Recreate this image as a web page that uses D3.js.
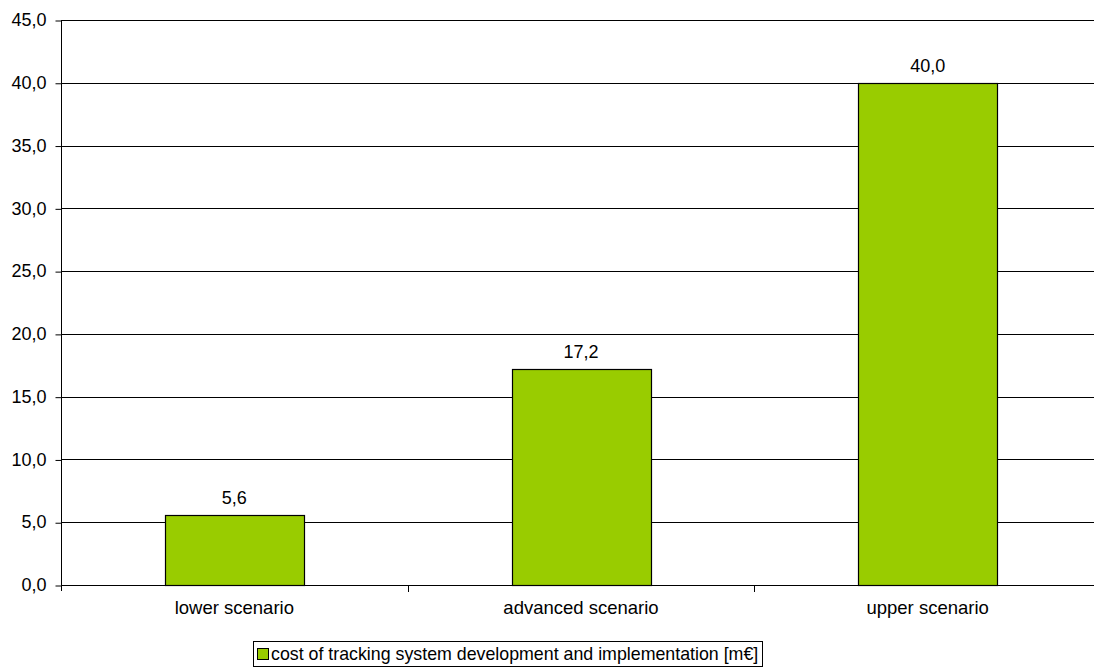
<!DOCTYPE html>
<html>
<head>
<meta charset="utf-8">
<script src="https://cdn.jsdelivr.net/npm/d3@7"></script>
<style>
  html, body { margin: 0; padding: 0; background: #fff; }
  svg { display: block; font-family: Arial, "Liberation Sans", sans-serif; }
</style>
</head>
<body>
<svg id="chart" width="1094" height="671"></svg>
<script>
// Scenario cost data
const categories = ["lower scenario", "advanced scenario", "upper scenario"];
const costValues = [5.6, 17.2, 40.0];
const yTicks = [0, 5, 10, 15, 20, 25, 30, 35, 40, 45];
const seriesName = "cost of tracking system development and implementation [m€]";

const svg = d3.select("#chart");
const margin = { left: 61, top: 20, bottom: 585, right: 1101 };
const fontSize = 18;

const fmt = v => d3.format(".1f")(v).replace(".", ",");

const x = d3.scaleBand()
  .domain(categories)
  .range([margin.left, margin.right])
  .paddingInner(0.6)
  .paddingOuter(0.3);

const xOuter = d3.scaleBand()
  .domain(categories)
  .range([margin.left, margin.right]);

const y = d3.scaleLinear()
  .domain([0, 45])
  .range([margin.bottom, margin.top]);

// horizontal gridlines
svg.append("g")
  .selectAll("line")
  .data(yTicks)
  .join("line")
  .attr("x1", margin.left)
  .attr("x2", margin.right)
  .attr("y1", d => Math.round(y(d)) + 0.5)
  .attr("y2", d => Math.round(y(d)) + 0.5)
  .attr("stroke", "#000")
  .attr("stroke-width", 1);

// y axis
const yAxis = svg.append("g")
  .attr("transform", `translate(${margin.left + 0.5},0)`)
  .call(d3.axisLeft(y).tickValues(yTicks).tickFormat(fmt).tickSize(6).tickPadding(9));
yAxis.select(".domain").attr("stroke", "#000").attr("d", `M0,${margin.top}V${margin.bottom + 6}`);
yAxis.selectAll(".tick line").attr("stroke", "#000")
  .attr("transform", "translate(0,0.5)");
yAxis.selectAll(".tick text")
  .attr("font-size", fontSize)
  .attr("fill", "#000")
  .attr("font-family", "Arial, 'Liberation Sans', sans-serif");

// category separators below the baseline
const sepX = categories.map(c => xOuter(c) + xOuter.bandwidth()).slice(0, -1);
svg.append("g")
  .selectAll("line")
  .data(sepX)
  .join("line")
  .attr("x1", d => Math.round(d) + 0.5)
  .attr("x2", d => Math.round(d) + 0.5)
  .attr("y1", margin.bottom)
  .attr("y2", margin.bottom + 7)
  .attr("stroke", "#000");

// bars
svg.append("g")
  .selectAll("rect")
  .data(costValues)
  .join("rect")
  .attr("x", (d, i) => Math.round(x(categories[i])) + 0.5)
  .attr("y", d => Math.round(y(d)) + 0.5)
  .attr("width", Math.round(x.bandwidth()))
  .attr("height", d => Math.round(y(0)) - Math.round(y(d)))
  .attr("fill", "#99CC00")
  .attr("stroke", "#000")
  .attr("stroke-width", 1.2);

// value labels
svg.append("g")
  .selectAll("text")
  .data(costValues)
  .join("text")
  .attr("x", (d, i) => x(categories[i]) + x.bandwidth() / 2)
  .attr("y", d => y(d) - 11)
  .attr("text-anchor", "middle")
  .attr("font-size", fontSize)
  .attr("fill", "#000")
  .text(fmt);

// category labels
svg.append("g")
  .selectAll("text")
  .data(categories)
  .join("text")
  .attr("x", d => xOuter(d) + xOuter.bandwidth() / 2)
  .attr("y", 614)
  .attr("text-anchor", "middle")
  .attr("font-size", 18.5)
  .attr("fill", "#000")
  .text(d => d);

// legend
const legend = svg.append("g");
const legendText = legend.append("text")
  .attr("x", 271)
  .attr("y", 660)
  .attr("font-size", 17.8)
  .attr("fill", "#000")
  .text(seriesName);
const tw = legendText.node().getComputedTextLength();
legend.insert("rect", "text")
  .attr("x", 253.5)
  .attr("y", 641.5)
  .attr("width", Math.round(271 + tw + 4 - 253))
  .attr("height", 25)
  .attr("fill", "#fff")
  .attr("stroke", "#000");
legend.append("rect")
  .attr("x", 257.5)
  .attr("y", 648.5)
  .attr("width", 11)
  .attr("height", 11)
  .attr("fill", "#99CC00")
  .attr("stroke", "#000");
</script>
</body>
</html>
